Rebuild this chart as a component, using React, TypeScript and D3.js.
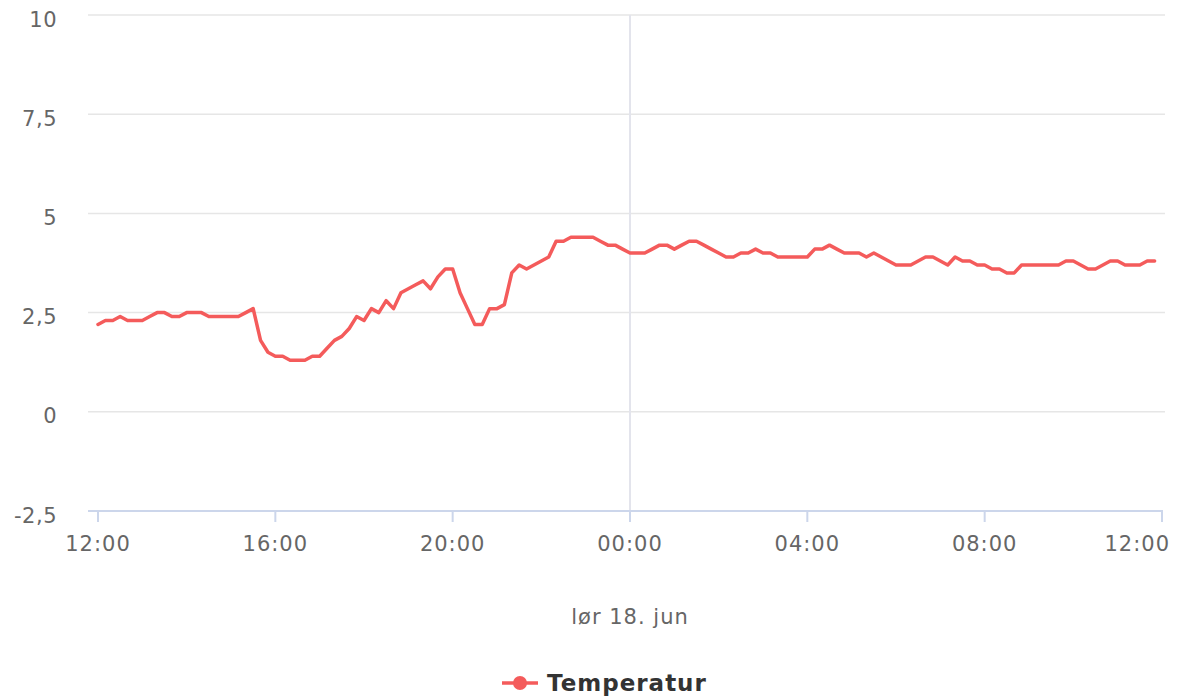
import React from "react";
import * as d3 from "d3";

// 10-minute temperature readings, starting Fri 17 Jun 2022 12:00
const startTime = new Date(2022, 5, 17, 12, 0);
const temperature: number[] = [
  2.2, 2.3, 2.3, 2.4, 2.3, 2.3, 2.3, 2.4, 2.5, 2.5, 2.4, 2.4,
  2.5, 2.5, 2.5, 2.4, 2.4, 2.4, 2.4, 2.4, 2.5, 2.6, 1.8, 1.5,
  1.4, 1.4, 1.3, 1.3, 1.3, 1.4, 1.4, 1.6, 1.8, 1.9, 2.1, 2.4,
  2.3, 2.6, 2.5, 2.8, 2.6, 3.0, 3.1, 3.2, 3.3, 3.1, 3.4, 3.6,
  3.6, 3.0, 2.6, 2.2, 2.2, 2.6, 2.6, 2.7, 3.5, 3.7, 3.6, 3.7,
  3.8, 3.9, 4.3, 4.3, 4.4, 4.4, 4.4, 4.4, 4.3, 4.2, 4.2, 4.1,
  4.0, 4.0, 4.0, 4.1, 4.2, 4.2, 4.1, 4.2, 4.3, 4.3, 4.2, 4.1,
  4.0, 3.9, 3.9, 4.0, 4.0, 4.1, 4.0, 4.0, 3.9, 3.9, 3.9, 3.9,
  3.9, 4.1, 4.1, 4.2, 4.1, 4.0, 4.0, 4.0, 3.9, 4.0, 3.9, 3.8,
  3.7, 3.7, 3.7, 3.8, 3.9, 3.9, 3.8, 3.7, 3.9, 3.8, 3.8, 3.7,
  3.7, 3.6, 3.6, 3.5, 3.5, 3.7, 3.7, 3.7, 3.7, 3.7, 3.7, 3.8,
  3.8, 3.7, 3.6, 3.6, 3.7, 3.8, 3.8, 3.7, 3.7, 3.7, 3.8, 3.8,
];
const yTicks: number[] = [-2.5, 0, 2.5, 5, 7.5, 10];
const xTickHours: number[] = [0, 4, 8, 12, 16, 20, 24];
const plotLineHour = 12; // midnight
const axisTitle = "lør 18. jun";
const seriesName = "Temperatur";

const W = 1178;
const H = 697;
const gridLeft = 88;
const gridRight = 1165;
const FONT = "Verdana, 'DejaVu Sans', sans-serif";
const LINE_COLOR = "#f45b5b";

export default function App() {
  const endTime = d3.timeHour.offset(startTime, 24);
  const x = d3.scaleTime().domain([startTime, endTime]).range([98, 1162]);
  const y = d3.scaleLinear().domain([-2.5, 10]).range([511, 15]);

  const data = temperature.map((v, i) => ({
    t: d3.timeMinute.offset(startTime, i * 10),
    v,
  }));
  const line = d3
    .line<{ t: Date; v: number }>()
    .x((d) => x(d.t))
    .y((d) => y(d.v));

  const fmtY = (v: number) => String(v).replace(".", ",");
  const fmtX = d3.timeFormat("%H:%M");
  const xTicks = xTickHours.map((h) => d3.timeHour.offset(startTime, h));
  const plotX = x(d3.timeHour.offset(startTime, plotLineHour));

  return (
    <svg
      width={W}
      height={H}
      style={{ position: "absolute", left: 0, top: 0, background: "#fff" }}
      fontFamily={FONT}
    >
      {/* grid */}
      {yTicks.map((t) =>
        t === -2.5 ? null : (
          <line
            key={t}
            x1={gridLeft}
            x2={gridRight}
            y1={y(t)}
            y2={y(t)}
            stroke="#e6e6e6"
            strokeWidth={1.5}
          />
        )
      )}
      {/* plot line at midnight */}
      <line
        x1={plotX}
        x2={plotX}
        y1={y(10)}
        y2={y(-2.5)}
        stroke="#e3e4ec"
        strokeWidth={2}
      />
      {/* x axis line */}
      <line
        x1={gridLeft}
        x2={1163}
        y1={y(-2.5)}
        y2={y(-2.5)}
        stroke="#ccd6eb"
        strokeWidth={2}
      />
      {xTicks.map((t, i) => {
        const last = i === xTicks.length - 1;
        return (
          <g key={i}>
            <line
              x1={x(t)}
              x2={x(t)}
              y1={y(-2.5)}
              y2={y(-2.5) + 11}
              stroke="#ccd6eb"
              strokeWidth={2}
            />
            <text
              x={last ? 1170 : x(t)}
              y={y(-2.5) + 33}
              textAnchor={last ? "end" : "middle"}
              dominantBaseline="central"
              fontSize={21}
              letterSpacing={1}
              fill="#666"
            >
              {fmtX(t)}
            </text>
          </g>
        );
      })}
      {yTicks.map((t) => (
        <text
          key={t}
          x={57}
          y={y(t) + 4.5}
          textAnchor="end"
          dominantBaseline="central"
          fontSize={21}
          letterSpacing={0.5}
          fill="#666"
        >
          {fmtY(t)}
        </text>
      ))}
      {/* series */}
      <path
        d={line(data) ?? ""}
        fill="none"
        stroke={LINE_COLOR}
        strokeWidth={3.5}
        strokeLinejoin="round"
        strokeLinecap="round"
      />
      {/* axis title */}
      <text
        x={630}
        y={617}
        textAnchor="middle"
        dominantBaseline="central"
        fontSize={21}
        letterSpacing={1}
        fill="#666"
      >
        {axisTitle}
      </text>
      {/* legend */}
      <g>
        <line
          x1={502}
          x2={538}
          y1={683}
          y2={683}
          stroke={LINE_COLOR}
          strokeWidth={3.5}
        />
        <circle cx={520} cy={683} r={7} fill={LINE_COLOR} />
        <text
          x={547}
          y={683}
          dominantBaseline="central"
          fontSize={23}
          letterSpacing={1}
          fontWeight="bold"
          fill="#333"
        >
          {seriesName}
        </text>
      </g>
    </svg>
  );
}
